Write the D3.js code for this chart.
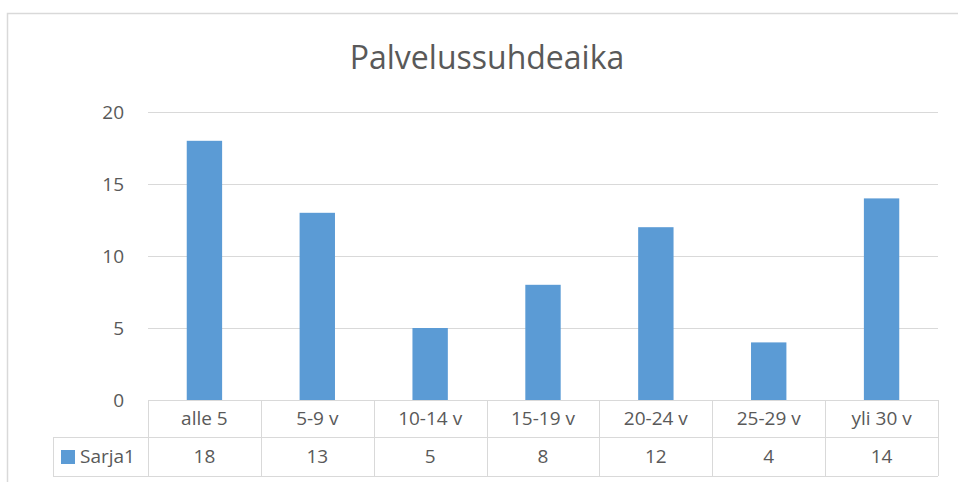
<!DOCTYPE html>
<html>
<head>
<meta charset="utf-8">
<script src="https://cdn.jsdelivr.net/npm/d3@7"></script>
<style>
  body { margin: 0; background: #fff; }
  svg { display: block; font-family: "Open Sans", sans-serif; }
  .grid line { stroke: #d9d9d9; stroke-width: 1; shape-rendering: crispEdges; }
  .grid path { display: none; }
  .axis--y path, .axis--y line { display: none; }
  .axis--y text { fill: #595959; font-size: 19px; font-family: "Open Sans", sans-serif; }
  .tbl line { stroke: #d9d9d9; stroke-width: 1; shape-rendering: crispEdges; }
  .cell { fill: #595959; font-size: 19px; text-anchor: middle; }
</style>
</head>
<body>
<div id="chart"></div>
<script>
// data
var categories = ["alle 5", "5-9 v", "10-14 v", "15-19 v", "20-24 v", "25-29 v", "yli 30 v"];
var values = [18, 13, 5, 8, 12, 4, 14];
var seriesName = "Sarja1";
var yTicks = [0, 5, 10, 15, 20];
var title = "Palvelussuhdeaika";

var W = 958, H = 482;
var plot = { left: 148, right: 938, top: 112, bottom: 400 };
var row1 = 437, row2 = 476, legendLeft = 53;

var svg = d3.select("#chart").append("svg")
    .attr("width", W)
    .attr("height", H);

// outer chart frame
svg.append("path")
    .attr("d", "M7.5," + H + "V13.5H" + W)
    .attr("fill", "none")
    .attr("stroke", "#d9d9d9")
    .attr("stroke-width", 1.5);

svg.append("text")
    .attr("x", (plot.left + plot.right) / 2 - 56)
    .attr("y", 69)
    .attr("text-anchor", "middle")
    .attr("fill", "#595959")
    .style("font-size", "32px")
    .text(title);

//SCALES
var x = d3.scaleBand()
    .domain(categories)
    .range([plot.left, plot.right])
    .padding(0);

var y = d3.scaleLinear()
    .domain([0, 20])
    .range([plot.bottom, plot.top]);

// gridlines
svg.append("g")
    .attr("class", "grid")
    .attr("transform", "translate(" + plot.left + ",0)")
    .call(d3.axisLeft(y).tickValues(yTicks.filter(function(d) { return d > 0; }))
      .tickSize(-(plot.right - plot.left))
      .tickFormat(""));

svg.append("g")
    .attr("class", "axis axis--y")
    .attr("transform", "translate(" + 124 + ",0)")
    .call(d3.axisLeft(y).tickValues(yTicks).tickSize(0).tickPadding(0))
    .selectAll("text")
      .attr("dy", "0.35em");

// bars (gap width ~219%)
var barW = x.bandwidth() / 3.19;
svg.selectAll(".bar")
    .data(values)
    .enter().append("rect")
    .attr("class", "bar")
    .attr("x", function(d, i) { return x(categories[i]) + (x.bandwidth() - barW) / 2; })
    .attr("y", function(d) { return y(d); })
    .attr("width", barW)
    .attr("height", function(d) { return y(0) - y(d); })
    .attr("fill", "#5b9bd5");

// DATA TABLE
var tbl = svg.append("g").attr("class", "tbl");

tbl.append("line")
    .attr("x1", plot.left).attr("x2", plot.right)
    .attr("y1", plot.bottom + 0.5).attr("y2", plot.bottom + 0.5);
tbl.append("line")
    .attr("x1", legendLeft).attr("x2", plot.right)
    .attr("y1", row1 + 0.5).attr("y2", row1 + 0.5);
tbl.append("line")
    .attr("x1", legendLeft).attr("x2", plot.right)
    .attr("y1", row2 + 0.5).attr("y2", row2 + 0.5);
tbl.append("line")
    .attr("x1", legendLeft + 0.5).attr("x2", legendLeft + 0.5)
    .attr("y1", row1).attr("y2", row2);

var edges = categories.map(function(c) { return x(c); }).concat([plot.right]);
tbl.selectAll(".vline")
    .data(edges)
    .enter().append("line")
    .attr("class", "vline")
    .attr("x1", function(d) { return Math.round(d) + 0.5; })
    .attr("x2", function(d) { return Math.round(d) + 0.5; })
    .attr("y1", plot.bottom)
    .attr("y2", row2);

svg.selectAll(".catLabel")
    .data(categories)
    .enter().append("text")
    .attr("class", "cell")
    .attr("x", function(d) { return x(d) + x.bandwidth() / 2; })
    .attr("y", (plot.bottom + row1) / 2)
    .attr("dy", "0.35em")
    .text(function(d) { return d; });

svg.selectAll(".valLabel")
    .data(values)
    .enter().append("text")
    .attr("class", "cell")
    .attr("x", function(d, i) { return x(categories[i]) + x.bandwidth() / 2; })
    .attr("y", (row1 + row2) / 2)
    .attr("dy", "0.35em")
    .text(function(d) { return d; });

// legend key in table
svg.append("rect")
    .attr("x", 61)
    .attr("y", 450)
    .attr("width", 14)
    .attr("height", 14)
    .attr("fill", "#5b9bd5");

svg.append("text")
    .attr("class", "cell")
    .attr("x", 80)
    .attr("y", (row1 + row2) / 2)
    .attr("dy", "0.35em")
    .style("text-anchor", "start")
    .text(seriesName);
</script>
</body>
</html>
